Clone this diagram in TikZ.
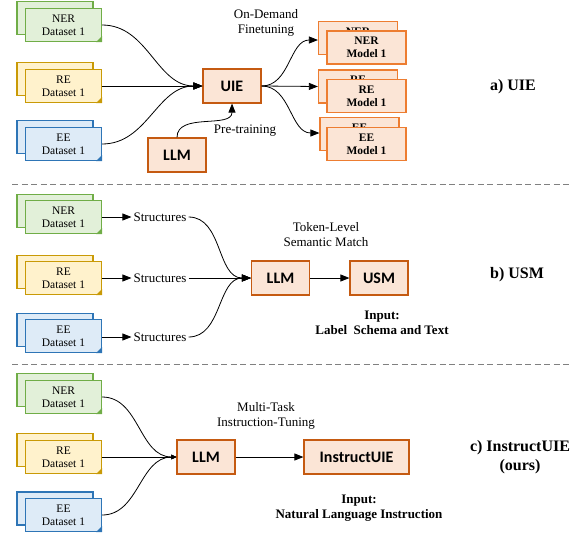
\documentclass[tikz,border=0pt]{standalone}
\usepackage{fontspec}
\setmainfont{Liberation Serif}
\newfontfamily\boxfont{Carlito}
\usetikzlibrary{arrows.meta,calc}
\definecolor{gfill}{HTML}{E2F0D9}\definecolor{gdraw}{HTML}{70AD47}
\definecolor{yfill}{HTML}{FFF2CC}\definecolor{ydraw}{HTML}{C99A06}
\definecolor{bfill}{HTML}{DEEBF7}\definecolor{bdraw}{HTML}{2E75B6}
\definecolor{ofill}{HTML}{FBE5D6}\definecolor{odraw}{HTML}{C55A11}
\definecolor{mdraw}{HTML}{ED7D31}
\tikzset{
  ds/.style={rectangle, minimum width=76pt, minimum height=33pt, line width=1.2pt, inner sep=0pt, align=center, font=\fontsize{11.5}{13}\selectfont},
  gds/.style={ds, fill=gfill, draw=gdraw},
  yds/.style={ds, fill=yfill, draw=ydraw},
  bds/.style={ds, fill=bfill, draw=bdraw},
  mbox/.style={rectangle, minimum width=79pt, minimum height=33pt, line width=1.2pt, inner sep=0pt, align=center, fill=ofill, draw=mdraw, font=\bfseries\fontsize{11.5}{13}\selectfont},
  obox/.style={rectangle, minimum width=58pt, minimum height=34pt, line width=1.2pt, fill=ofill, draw=odraw, font=\boxfont\bfseries\fontsize{16}{18}\selectfont},
  lab/.style={align=center, inner sep=1pt, font=\fontsize{13}{15}\selectfont},
  blab/.style={align=center, inner sep=1pt, font=\bfseries\fontsize{13}{15}\selectfont},
  sec/.style={align=center, inner sep=1pt, font=\bfseries\fontsize{16}{19}\selectfont},
  arr/.style={-{Triangle[length=9pt,width=7pt]}, line width=0.8pt},
  sarr/.style={-{Triangle[length=5pt,width=4.5pt]}, line width=0.8pt},
  sep/.style={gray, line width=1pt, dash pattern=on 6pt off 3.5pt},
}
\newcommand\foldcorner[2]{%
  \fill[#2] ($(#1.south east)+(-6pt,0pt)$) -- ($(#1.south east)+(0pt,6pt)$) -- (#1.south east) -- cycle;}
\begin{document}
\begin{tikzpicture}[x=1pt,y=-1pt]
\useasboundingbox (0,0) rectangle (572,533);
% ---------- a) UIE ----------
\node[gds] (nerAb) at (55,18) {};
\node[gds] (nerA) at (63.5,25) {NER\\Dataset 1};
\foldcorner{nerA}{gdraw}
\node[yds] (reAb) at (55,79) {};
\node[yds] (reA) at (63.5,86) {RE\\Dataset 1};
\foldcorner{reA}{ydraw}
\node[bds] (eeAb) at (55,137) {};
\node[bds] (eeA) at (63.5,144) {EE\\Dataset 1};
\foldcorner{eeA}{bdraw}

\node[obox] (uie) at (232,86) {UIE};
\node[obox] (llmA) at (177,155) {LLM};

\node[mbox] (nerMb) at (358,38) {NER\\Model 1};
\node[mbox] (nerM) at (366.5,47.5) {NER\\Model 1};
\node[mbox] (reMb) at (358,86.5) {RE\\Model 1};
\node[mbox] (reM) at (366.5,96) {RE\\Model 1};
\node[mbox] (eeMb) at (359.5,134) {EE\\Model 1};
\node[mbox] (eeM) at (366.5,144) {EE\\Model 1};

\draw[arr] (nerA.east) to[out=0,in=180] (uie.west);
\draw[arr] (reA.east) -- (uie.west);
\draw[arr] (eeA.east) to[out=0,in=180] (uie.west);
\draw[arr] (llmA.north) to[out=90,in=-90] (uie.south);
\draw[arr] (uie.east) to[out=0,in=180] ($(nerMb.west)+(0pt,-2pt)$);
\draw[arr] (uie.east) -- (reMb.west);
\draw[arr] (uie.east) to[out=0,in=180] ($(eeMb.west)+(0pt,1pt)$);

\node[lab] (odf) at (266,23) {On-Demand\\Finetuning};
\node[lab] (pt) at (245,131) {Pre-training};
\node[sec] (secA) at (513,87) {a) UIE};

\draw[sep] (12,184) -- (571,184);
% ---------- b) USM ----------
\node[gds] (nerBb) at (55,211) {};
\node[gds] (nerB) at (63.5,217) {NER\\Dataset 1};
\foldcorner{nerB}{gdraw}
\node[yds] (reBb) at (55,272) {};
\node[yds] (reB) at (63.5,278) {RE\\Dataset 1};
\foldcorner{reB}{ydraw}
\node[bds] (eeBb) at (55,330) {};
\node[bds] (eeB) at (63.5,336) {EE\\Dataset 1};
\foldcorner{eeB}{bdraw}

\node[lab, inner sep=2pt] (stA) at (160,217) {Structures};
\node[lab, inner sep=2pt] (stB) at (160,278) {Structures};
\node[lab, inner sep=2pt] (stC) at (160,337) {Structures};
\draw[arr] (nerB.east) -- (stA.west);
\draw[arr] (reB.east) -- (stB.west);
\draw[arr] (eeB.east |- stC.west) -- (stC.west);

\node[obox] (llmB) at (280.5,278) {LLM};
\node[obox] (usm) at (379,278) {USM};
\draw[arr] (stA.east) to[out=0,in=180] (llmB.west);
\draw[arr] (stB.east) -- (llmB.west);
\draw[arr] (stC.east) to[out=0,in=180] (llmB.west);
\draw[arr] (llmB.east) -- (usm.west);

\node[lab] (tls) at (326,235) {Token-Level\\Semantic Match};
\node[blab] (inB) at (382,323) {Input:\\Label\ \ Schema and Text};
\node[sec] (secB) at (517,275) {b) USM};

\draw[sep] (12,364) -- (571,364);
% ---------- c) InstructUIE ----------
\node[gds] (nerCb) at (55,390) {};
\node[gds] (nerC) at (63.5,397) {NER\\Dataset 1};
\foldcorner{nerC}{gdraw}
\node[yds] (reCb) at (55,450) {};
\node[yds] (reC) at (63.5,457) {RE\\Dataset 1};
\foldcorner{reC}{ydraw}
\node[bds] (eeCb) at (55,508.5) {};
\node[bds] (eeC) at (63.5,515) {EE\\Dataset 1};
\foldcorner{eeC}{bdraw}

\node[obox] (llmC) at (206,457) {LLM};
\node[obox, minimum width=105pt] (iuie) at (356.5,457) {InstructUIE};
\draw[sarr] (nerC.east) to[out=0,in=180] (llmC.west);
\draw[sarr] (reC.east) -- (llmC.west);
\draw[sarr] (eeC.east) to[out=0,in=180] (llmC.west);
\draw[arr] (llmC.east) -- (iuie.west);

\node[lab] (mtit) at (266,416) {Multi-Task\\Instruction-Tuning};
\node[blab] (inC) at (359,508) {Input:\\Natural Language Instruction};
\node[sec] (secC) at (520,457) {c) InstructUIE\\(ours)};
\end{tikzpicture}
\end{document}
